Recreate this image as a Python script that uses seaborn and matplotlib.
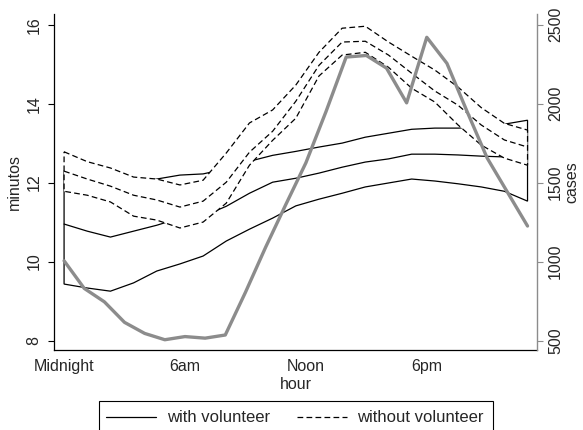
import matplotlib
matplotlib.use("Agg")
import matplotlib.pyplot as plt
import seaborn as sns
import pandas as pd
from matplotlib.lines import Line2D
from matplotlib.patches import Rectangle

# Hourly case counts (right axis)
hours = list(range(24))
cases = [1005, 830, 745, 615, 545, 505, 525, 515, 535, 805, 1090, 1360,
         1625, 1950, 2295, 2305, 2225, 2005, 2420, 2255, 1950, 1655, 1440, 1225]

# Smoothed minutes with confidence band, evaluated on a grid of hours
fit_hours = [0.0, 1.15, 2.3, 3.45, 4.6, 5.75, 6.9, 8.05, 9.2, 10.35, 11.5,
             12.65, 13.8, 14.95, 16.1, 17.25, 18.4, 19.55, 20.7, 21.85, 23.0]

vol_hi = [12.30, 12.10, 12.00, 11.95, 12.09, 12.19, 12.22, 12.35, 12.54, 12.69, 12.79,
          12.90, 13.00, 13.15, 13.25, 13.35, 13.38, 13.38, 13.40, 13.48, 13.58]
vol_mid = [10.95, 10.77, 10.62, 10.77, 10.92, 11.10, 11.15, 11.40, 11.73, 12.01, 12.11,
           12.24, 12.39, 12.52, 12.60, 12.72, 12.72, 12.70, 12.67, 12.65, 12.55]
vol_lo = [9.43, 9.33, 9.25, 9.46, 9.76, 9.94, 10.14, 10.52, 10.82, 11.10, 11.41,
          11.58, 11.73, 11.89, 11.99, 12.09, 12.04, 11.97, 11.89, 11.78, 11.53]

novol_hi = [12.78, 12.53, 12.37, 12.14, 12.09, 11.94, 12.06, 12.75, 13.51, 13.84, 14.47,
            15.30, 15.91, 15.96, 15.56, 15.20, 14.85, 14.42, 13.90, 13.50, 13.33]
novol_mid = [12.29, 12.09, 11.91, 11.68, 11.56, 11.38, 11.53, 12.01, 12.77, 13.30, 14.06,
             14.97, 15.56, 15.58, 15.23, 14.77, 14.32, 13.96, 13.46, 13.08, 12.90]
novol_lo = [11.78, 11.68, 11.51, 11.15, 11.05, 10.85, 11.00, 11.48, 12.44, 13.07, 13.63,
            14.70, 15.23, 15.30, 14.92, 14.39, 14.04, 13.46, 12.95, 12.62, 12.44]

hour_ticks = [0, 6, 12, 18]
hour_labels = ["Midnight", "6am", "Noon", "6pm"]
min_ticks = [8, 10, 12, 14, 16]
case_ticks = [500, 1000, 1500, 2000, 2500]

sns.set_style("white")
plt.rcParams["font.family"] = ["Liberation Sans", "DejaVu Sans"]
plt.rcParams["font.size"] = 11.5

W, H = 583, 430
fig = plt.figure(figsize=(W / 100, H / 100), dpi=100)
fig.patch.set_facecolor("white")
ax = fig.add_axes([54 / W, 1 - 350 / H, (537 - 54) / W, (350 - 14) / H])
ax.set_facecolor("white")

LW = 0.9
DASH = (0, (4.6, 2.6))
GREY = "#8c8c8c"

fits = pd.DataFrame({"hour": fit_hours, "vol_mid": vol_mid, "novol_mid": novol_mid})

# with volunteer: white band with solid outline, then centre line
ax.fill(fit_hours + fit_hours[::-1], vol_hi + vol_lo[::-1],
        facecolor="white", edgecolor="black", lw=LW, zorder=2)
sns.lineplot(data=fits, x="hour", y="vol_mid", ax=ax, color="black", lw=LW, zorder=3)

# without volunteer: white band with dashed outline, then centre line
ax.fill(fit_hours + fit_hours[::-1], novol_hi + novol_lo[::-1],
        facecolor="white", edgecolor="black", lw=LW, linestyle=DASH, zorder=4)
sns.lineplot(data=fits, x="hour", y="novol_mid", ax=ax, color="black", lw=LW,
             linestyle=DASH, zorder=5)

ax.set_xlim(-0.5, 23.47)
ax.set_ylim(7.76, 16.27)
ax.set_xticks(hour_ticks)
ax.set_xticklabels(hour_labels)
ax.set_yticks(min_ticks)
ax.set_xlabel("hour", labelpad=2)
ax.set_ylabel("minutos", labelpad=3)
ax.tick_params(axis="y", labelrotation=90, length=4.5, width=0.8, pad=4.5, color="black")
ax.tick_params(axis="x", length=4.5, width=0.8, pad=2, color="black")
for lab in ax.get_yticklabels():
    lab.set_va("center")
for side in ["top", "right"]:
    ax.spines[side].set_visible(False)
for side in ["left", "bottom"]:
    ax.spines[side].set_color("black")
    ax.spines[side].set_linewidth(0.9)

# cases on the right axis
ax2 = ax.twinx()
case_df = pd.DataFrame({"hour": hours, "cases": cases})
sns.lineplot(data=case_df, x="hour", y="cases", ax=ax2, color=GREY, lw=2.4, zorder=6)
ax2.set_ylim(440, 2567.5)
ax2.set_yticks(case_ticks)
ax2.set_ylabel("cases", labelpad=1)
ax2.tick_params(axis="y", labelrotation=90, length=4.5, width=0.8, pad=3.5, color=GREY)
for lab in ax2.get_yticklabels():
    lab.set_va("center")
for side in ["top", "left", "bottom"]:
    ax2.spines[side].set_visible(False)
ax2.spines["right"].set_color(GREY)
ax2.spines["right"].set_linewidth(1.0)

# legend below the plot
handles = [Line2D([], [], color="black", lw=LW),
           Line2D([], [], color="black", lw=LW, linestyle=DASH)]
fig.legend(handles, ["with volunteer", "without volunteer"], ncol=2,
           loc="center left", bbox_to_anchor=(106 / W, 1 - 418 / H),
           frameon=False, borderpad=0, borderaxespad=0, fontsize=12,
           handlelength=3.0, handletextpad=0.65, columnspacing=1.6)
fig.patches.append(Rectangle((99 / W, -0.1), (493 - 99) / W, 0.1 + 1 - 401 / H,
                             transform=fig.transFigure, fill=False,
                             edgecolor="black", lw=0.8))

fig.savefig("out.png", dpi=100, facecolor="white")
